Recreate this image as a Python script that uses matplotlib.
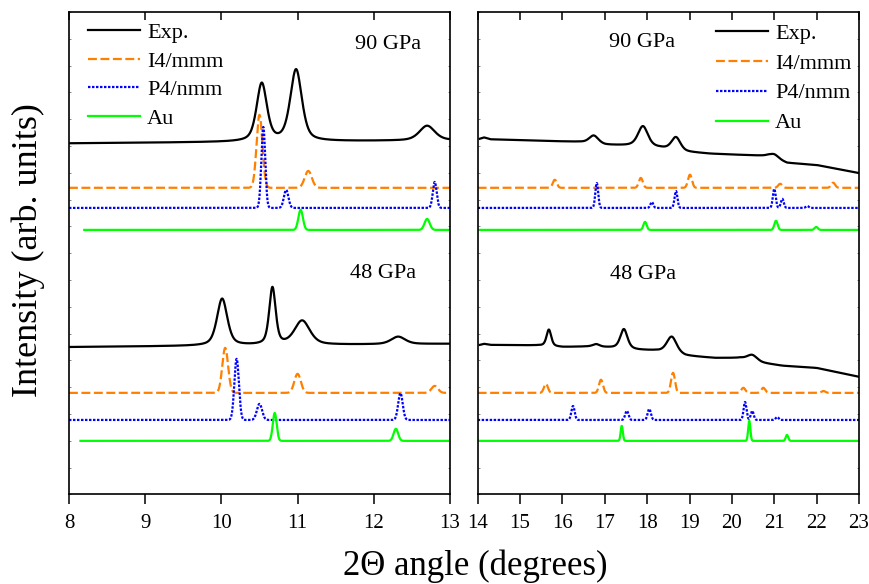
import numpy as np
import matplotlib
matplotlib.use("Agg")
import matplotlib.pyplot as plt

plt.rcParams["font.family"] = ["Liberation Serif", "DejaVu Serif"]

# intensity units: 1 unit = one y tick step, axis spans 0..18
# peaks given as (position, height above baseline, fwhm)

# ---- left panel (8-13 deg) ----
exp90_L_bg_x = [8.0, 13.0]
exp90_L_bg_y = [13.10, 13.21]
exp90_L_peaks = [(10.53, 2.16, 0.16), (10.98, 2.67, 0.18), (12.70, 0.55, 0.24)]
i4_90_L_base = 11.44
i4_90_L_peaks = [(10.50, 2.72, 0.09), (11.14, 0.63, 0.11)]
p4_90_L_base = 10.69
p4_90_L_peaks = [(10.55, 3.02, 0.06), (10.85, 0.67, 0.07), (12.80, 0.97, 0.06)]
au_90_L_base = 9.87
au_90_L_start = 8.2
au_90_L_peaks = [(11.04, 0.75, 0.07), (12.70, 0.41, 0.08)]

exp48_L_bg_x = [8.0, 13.0]
exp48_L_bg_y = [5.50, 5.62]
exp48_L_peaks = [(10.01, 1.75, 0.16), (10.67, 2.13, 0.10), (11.06, 0.90, 0.24), (12.32, 0.28, 0.22)]
i4_48_L_base = 3.79
i4_48_L_peaks = [(10.05, 1.68, 0.09), (11.00, 0.71, 0.10), (12.80, 0.26, 0.10)]
p4_48_L_base = 2.78
p4_48_L_peaks = [(10.20, 2.28, 0.07), (10.50, 0.60, 0.08), (12.35, 1.00, 0.07)]
au_48_L_base = 2.0
au_48_L_start = 8.15
au_48_L_peaks = [(10.70, 1.04, 0.06), (12.29, 0.45, 0.07)]

# ---- right panel (14-23 deg) ----
exp90_R_bg_x = [14.05, 14.15, 14.3, 16.4, 17.0, 17.6, 18.3, 18.9, 19.5, 20.5, 20.85, 21.3, 22.0, 23.0]
exp90_R_bg_y = [13.27, 13.32, 13.25, 13.15, 13.04, 13.01, 12.93, 12.78, 12.71, 12.65, 12.63, 12.37, 12.29, 11.99]
exp90_R_peaks = [(16.74, 0.30, 0.26), (17.90, 0.76, 0.28), (18.68, 0.49, 0.25), (21.00, 0.15, 0.25)]
i4_90_R_base = 11.44
i4_90_R_peaks = [(15.82, 0.30, 0.11), (17.85, 0.37, 0.11), (19.01, 0.49, 0.11), (21.14, 0.15, 0.11), (22.39, 0.19, 0.11)]
p4_90_R_base = 10.69
p4_90_R_peaks = [(16.81, 0.93, 0.08), (18.11, 0.22, 0.08), (18.68, 0.63, 0.08), (21.00, 0.71, 0.08), (21.19, 0.34, 0.08), (21.78, 0.07, 0.08)]
au_90_R_base = 9.87
au_90_R_peaks = [(17.95, 0.30, 0.09), (21.04, 0.34, 0.09), (21.99, 0.11, 0.09)]

exp48_R_bg_x = [14.05, 14.15, 14.3, 15.4, 16.0, 16.7, 16.9, 17.2, 17.8, 18.2, 18.9, 19.6, 20.2, 20.7, 21.2, 22.0, 23.0]
exp48_R_bg_y = [5.58, 5.62, 5.58, 5.56, 5.50, 5.52, 5.50, 5.47, 5.39, 5.36, 5.17, 5.09, 5.09, 4.91, 4.80, 4.72, 4.39]
exp48_R_peaks = [(15.68, 0.62, 0.13), (16.80, 0.09, 0.18), (17.45, 0.73, 0.20), (18.58, 0.63, 0.28), (20.48, 0.22, 0.28)]
i4_48_R_base = 3.79
i4_48_R_peaks = [(15.61, 0.34, 0.11), (16.91, 0.49, 0.11), (18.61, 0.75, 0.11), (20.27, 0.19, 0.11), (20.74, 0.19, 0.11), (22.16, 0.07, 0.11)]
p4_48_R_base = 2.78
p4_48_R_peaks = [(16.25, 0.52, 0.09), (17.52, 0.34, 0.09), (18.05, 0.41, 0.09), (20.31, 0.67, 0.08), (20.48, 0.34, 0.08), (21.07, 0.11, 0.08)]
au_48_R_base = 2.0
au_48_R_peaks = [(17.40, 0.56, 0.06), (20.41, 0.75, 0.06), (21.30, 0.22, 0.07)]

legend_labels = ["Exp.", "I4/mmm", "P4/nmm", "Au"]
pressure_labels = ["90 GPa", "48 GPa"]

c_exp = "black"
c_i4 = "#FF8000"
c_p4 = "#0000FF"
c_au = "#00FF00"


def pv(x, peaks, eta=0.5):
    y = np.zeros_like(x)
    for x0, h, w in peaks:
        g = np.exp(-4 * np.log(2) * ((x - x0) / w) ** 2)
        l = 1.0 / (1 + 4 * ((x - x0) / w) ** 2)
        y += h * (eta * l + (1 - eta) * g)
    return y


def gauss(x, peaks):
    y = np.zeros_like(x)
    for x0, h, w in peaks:
        y += h * np.exp(-4 * np.log(2) * ((x - x0) / w) ** 2)
    return y


fig = plt.figure(figsize=(8.69, 5.84), dpi=100)
axL = fig.add_axes([0.0794, 0.1533, 0.4384, 0.8262])
axR = fig.add_axes([0.5497, 0.1533, 0.4388, 0.8262])

lw = 1.6
dash_i4 = (0, (4, 1.6))
dot_p4 = (0, (1.1, 0.7))

# left panel
x = np.linspace(8, 13, 3000)
xa = np.linspace(au_90_L_start, 13, 3000)
axL.plot(x, np.interp(x, exp90_L_bg_x, exp90_L_bg_y) + pv(x, exp90_L_peaks), color=c_exp, lw=lw, label=legend_labels[0])
axL.plot(x, i4_90_L_base + gauss(x, i4_90_L_peaks), color=c_i4, lw=lw, ls=dash_i4, label=legend_labels[1])
axL.plot(x, p4_90_L_base + gauss(x, p4_90_L_peaks), color=c_p4, lw=lw, ls=dot_p4, label=legend_labels[2])
axL.plot(xa, au_90_L_base + gauss(xa, au_90_L_peaks), color=c_au, lw=lw, label=legend_labels[3])
xa = np.linspace(au_48_L_start, 13, 3000)
axL.plot(x, np.interp(x, exp48_L_bg_x, exp48_L_bg_y) + pv(x, exp48_L_peaks), color=c_exp, lw=lw)
axL.plot(x, i4_48_L_base + gauss(x, i4_48_L_peaks), color=c_i4, lw=lw, ls=dash_i4)
axL.plot(x, p4_48_L_base + gauss(x, p4_48_L_peaks), color=c_p4, lw=lw, ls=dot_p4)
axL.plot(xa, au_48_L_base + gauss(xa, au_48_L_peaks), color=c_au, lw=lw)

# right panel
x = np.linspace(14.05, 23, 4000)
xc = np.linspace(14, 23, 4000)
axR.plot(x, np.interp(x, exp90_R_bg_x, exp90_R_bg_y) + pv(x, exp90_R_peaks), color=c_exp, lw=lw, label=legend_labels[0])
axR.plot(xc, i4_90_R_base + gauss(xc, i4_90_R_peaks), color=c_i4, lw=lw, ls=dash_i4, label=legend_labels[1])
axR.plot(xc, p4_90_R_base + gauss(xc, p4_90_R_peaks), color=c_p4, lw=lw, ls=dot_p4, label=legend_labels[2])
axR.plot(xc, au_90_R_base + gauss(xc, au_90_R_peaks), color=c_au, lw=lw, label=legend_labels[3])
axR.plot(x, np.interp(x, exp48_R_bg_x, exp48_R_bg_y) + pv(x, exp48_R_peaks), color=c_exp, lw=lw)
axR.plot(xc, i4_48_R_base + gauss(xc, i4_48_R_peaks), color=c_i4, lw=lw, ls=dash_i4)
axR.plot(xc, p4_48_R_base + gauss(xc, p4_48_R_peaks), color=c_p4, lw=lw, ls=dot_p4)
axR.plot(xc, au_48_R_base + gauss(xc, au_48_R_peaks), color=c_au, lw=lw)

axL.set_xlim(8, 13)
axR.set_xlim(14, 23)
for ax in (axL, axR):
    ax.set_ylim(0, 18)
    ax.set_yticks(np.arange(0, 19))
    ax.set_yticklabels([])
    ax.set_xticks(np.arange(ax.get_xlim()[0], ax.get_xlim()[1] + 1))
    ax.tick_params(axis="x", which="major", direction="out", length=7, width=1.1,
                   labelsize=15, pad=7, top=False)
    ax.tick_params(axis="y", direction="in", length=1.5, width=0.5, left=True, right=True,
                   color="#555555")
    sec = ax.secondary_xaxis("top")
    sec.set_xticks(ax.get_xticks())
    sec.set_xticklabels([])
    sec.tick_params(direction="in", length=6, width=1.1)
    sec.spines["top"].set_visible(False)
    for s in ax.spines.values():
        s.set_linewidth(1.2)

axL.set_xticklabels([f"{int(v)}" for v in axL.get_xticks()])
axR.set_xticklabels([f"{int(v)}" for v in axR.get_xticks()])

leg_kw = dict(frameon=False, fontsize=16, handlelength=2.35, handletextpad=0.3,
              borderpad=0, borderaxespad=0, loc="upper left")
axL.legend(bbox_to_anchor=(0.05, 0.978), labelspacing=0.36, **leg_kw)
axR.legend(bbox_to_anchor=(0.625, 0.977), labelspacing=0.42, **leg_kw)

axL.text(0.837, 0.932, pressure_labels[0], transform=axL.transAxes, ha="center", va="center", fontsize=16)
axR.text(0.431, 0.936, pressure_labels[0], transform=axR.transAxes, ha="center", va="center", fontsize=16)
axL.text(0.824, 0.457, pressure_labels[1], transform=axL.transAxes, ha="center", va="center", fontsize=16)
axR.text(0.433, 0.455, pressure_labels[1], transform=axR.transAxes, ha="center", va="center", fontsize=16)

fig.text(0.547, 0.03, "2Θ angle (degrees)", ha="center", va="center", fontsize=25)
fig.text(0.032, 0.572, "Intensity (arb. units)", ha="center", va="center", rotation=90, fontsize=26)

fig.savefig("out.png", dpi=100)
